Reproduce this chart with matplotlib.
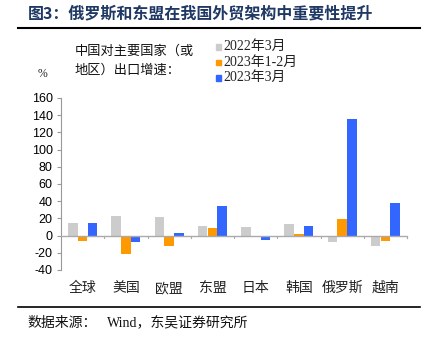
import matplotlib
matplotlib.use("Agg")
import matplotlib.pyplot as plt
import numpy as np
from matplotlib.lines import Line2D
from matplotlib.patches import Rectangle

plt.rcParams['font.family'] = ['Noto Sans CJK SC', 'DejaVu Sans']

categories = ['全球', '美国', '欧盟', '东盟', '日本', '韩国', '俄罗斯', '越南']
series_names = ['2022年3月', '2023年1-2月', '2023年3月']
s2022_03 = [14.7, 22.9, 22.0, 10.8, 9.7, 13.6, -8.0, -11.6]
s2023_0102 = [-6.6, -21.7, -12.0, 9.0, -2.0, 2.0, 19.4, -6.6]
s2023_03 = [14.5, -7.7, 3.5, 34.9, -5.0, 11.2, 136.0, 37.6]
yticks = [-40, -20, 0, 20, 40, 60, 80, 100, 120, 140, 160]
colors = ['#CCCCCC', '#FF9900', '#3366FF']

W, H = 429, 349
fig = plt.figure(figsize=(W / 100, H / 100), dpi=100)
ax = fig.add_axes([61 / W, 1 - 270 / H, (407 - 61) / W, (270 - 98) / H])

x = np.arange(len(categories))
bw = 0.215
for i, (vals, c) in enumerate(zip([s2022_03, s2023_0102, s2023_03], colors)):
    ax.bar(x + (i - 1) * (bw + 0.01), vals, width=bw, color=c, zorder=2)

ax.set_xlim(-0.5, len(categories) - 0.5)
ax.set_ylim(-40, 160)
ax.set_yticks(yticks)
ax.set_yticklabels([str(v) for v in yticks], family=['Liberation Sans', 'DejaVu Sans'], fontsize=9)
ax.tick_params(axis='y', direction='out', length=3, color='#999999', pad=3)
ax.set_xticks([])
for s in ['top', 'right', 'bottom']:
    ax.spines[s].set_visible(False)
ax.spines['left'].set_color('#999999')
ax.spines['left'].set_linewidth(0.8)

# zero line with separator ticks
ax.axhline(0, color='#AAAAAA', lw=1.0, zorder=3)
trans = ax.get_xaxis_transform()
for b in np.arange(0.5, len(categories) - 0.5 + 1e-9, 1.0):
    ax.plot([b, b], [0, -3], color='#AAAAAA', lw=0.8, zorder=3, clip_on=False)
ax.plot([len(categories) - 0.5, len(categories) - 0.5], [0, -3], color='#AAAAAA', lw=0.8, clip_on=False)

for xi, name in zip(x, categories):
    fig.text(ax.transData.transform((xi, 0))[0] / W, 1 - 288 / H, name,
             ha='center', va='center', fontsize=10, color='#222222')

# Title
fig.text(28 / W, 1 - 13 / H, '图3：俄罗斯和东盟在我国外贸架构中重要性提升',
         ha='left', va='center', fontsize=11.5, fontweight='bold', color='#1F3864')
fig.add_artist(Line2D([18 / W, 420 / W], [1 - 28 / H, 1 - 28 / H], color='black', lw=1.5))

# annotation
fig.text(75 / W, 1 - 51 / H, '中国对主要国家（或', ha='left', va='center', fontsize=9.5, color='#111111')
fig.text(75 / W, 1 - 70 / H, '地区）出口增速：', ha='left', va='center', fontsize=9.5, color='#111111')
fig.text(43 / W, 1 - 74 / H, '%', ha='center', va='center', fontsize=8.5,
         family=['Liberation Serif', 'DejaVu Sans'], color='#222222')

# legend
for row, (name, c) in enumerate(zip(series_names, colors)):
    yy = [46.5, 62, 77.5][row]
    fig.add_artist(Rectangle((215.5 / W, 1 - (yy + 3) / H), 5 / W, 5.5 / H, color=c,
                             transform=fig.transFigure))
    fig.text(223 / W, 1 - yy / H, name, ha='left', va='center', fontsize=10,
             family=['Liberation Serif', 'Noto Sans CJK SC'], color='#222222')

# bottom line and source
fig.add_artist(Line2D([18 / W, 420 / W], [1 - 307 / H, 1 - 307 / H], color='black', lw=1.2))
fig.text(27 / W, 1 - 323 / H, '数据来源：', ha='left', va='center', fontsize=10, color='#111111')
fig.text(107 / W, 1 - 323 / H, 'Wind，东吴证券研究所', ha='left', va='center', fontsize=10,
         family=['Liberation Serif', 'Noto Sans CJK SC'], color='#111111')

fig.savefig('out.png', dpi=100)
